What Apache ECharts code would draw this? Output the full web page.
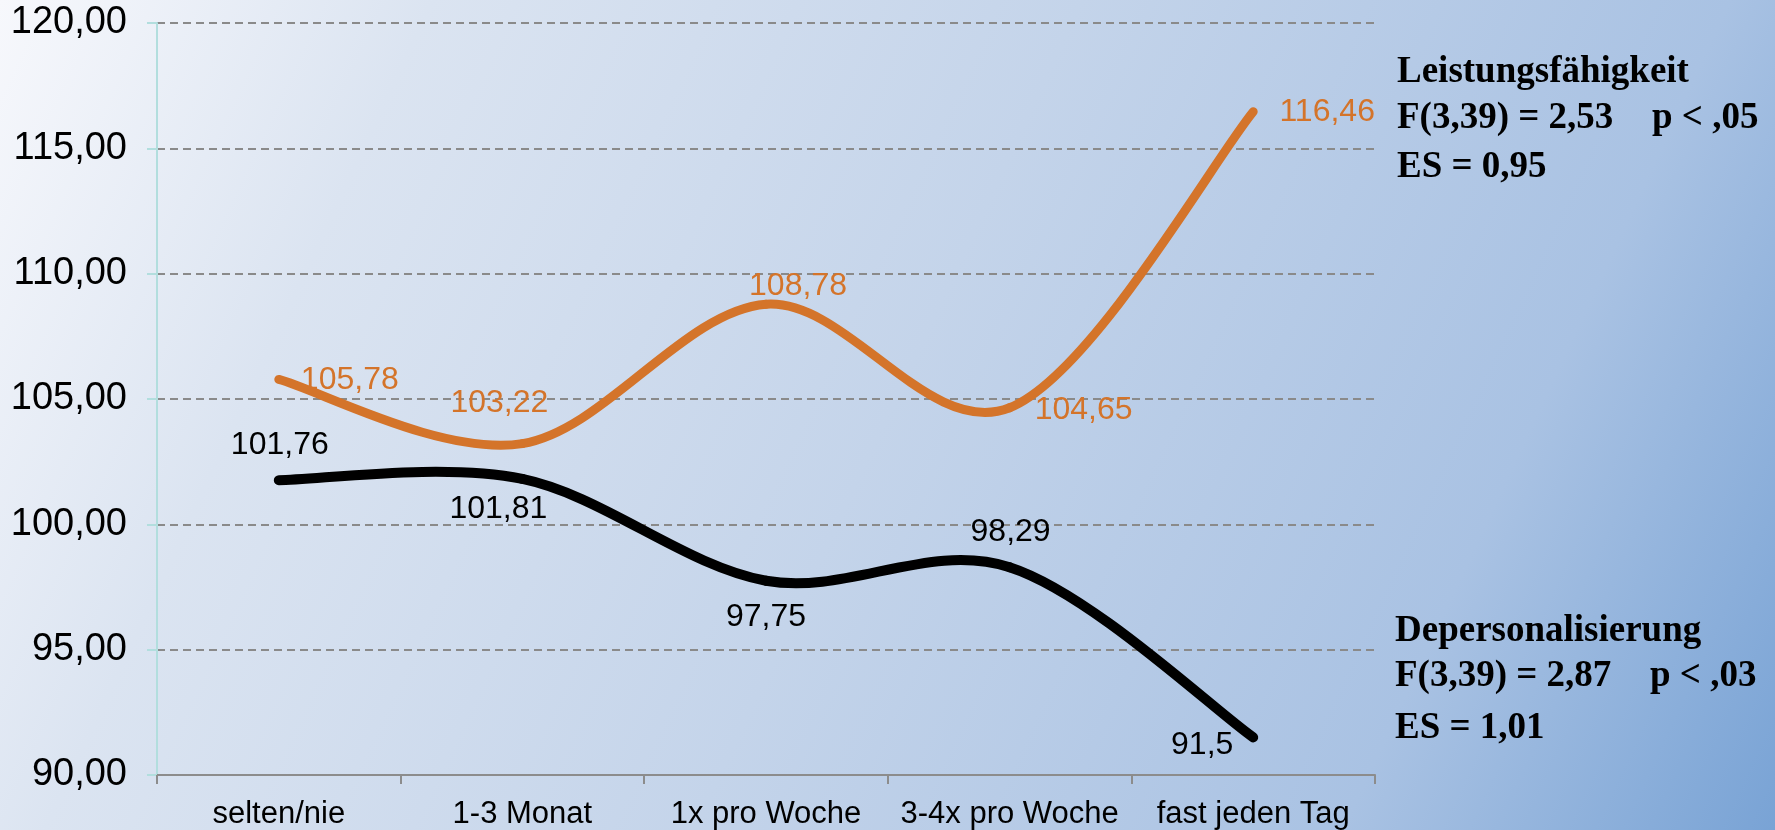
<!DOCTYPE html>
<html>
<head>
<meta charset="utf-8">
<title>Leistungsfähigkeit und Depersonalisierung</title>
<script src="https://cdn.jsdelivr.net/npm/echarts@6/dist/echarts.min.js"></script>
<style>
  html, body { margin: 0; padding: 0; width: 1775px; height: 830px; overflow: hidden; }
  #chart { width: 1775px; height: 830px; }
</style>
</head>
<body>
<div id="chart"></div>
<script>
// Categories and group means
const categories = ['selten/nie', '1-3 Monat', '1x pro Woche', '3-4x pro Woche', 'fast jeden Tag'];
const leistungsfaehigkeit = [105.78, 103.22, 108.78, 104.65, 116.46];
const depersonalisierung = [101.76, 101.81, 97.75, 98.29, 91.5];

// Value axis range
const yMin = 90;
const yMax = 120;
const yStep = 5;

// Statistics text blocks
const statsLeistung = ['Leistungsfähigkeit', 'F(3,39) = 2,53', 'p < ,05', 'ES = 0,95'];
const statsDeperson = ['Depersonalisierung', 'F(3,39) = 2,87', 'p < ,03', 'ES = 1,01'];

// Label placement relative to each point (px)
const orangeLabelOffsets = [[71, 1], [-23, -40], [32, -18], [74, 2], [74, 0]];
const blackLabelOffsets = [[1, -35], [-24, 30], [0, 36], [1, -35], [-51, 8]];

const ORANGE = '#d4742a';
const BLACK = '#000000';
const FONT_SANS = '"Liberation Sans", Arial, sans-serif';
const fmt = v => String(v).replace('.', ',');

function withLabels(values, offsets) {
  return values.map((v, i) => ({ value: v, label: { offset: offsets[i] } }));
}

// Smooth curve: one cubic Bezier per segment, Catmull-Rom style tangents,
// positioned through the chart's own coordinate system.
function smoothCurveSeries(name, values, color, width, z) {
  return {
    name: name,
    type: 'custom',
    coordinateSystem: 'cartesian2d',
    data: values.slice(0, -1).map((v, i) => [i, v]),
    z: z,
    silent: true,
    renderItem: function (params, api) {
      const i = params.dataIndex;
      const n = values.length;
      const pt = k => api.coord([Math.max(0, Math.min(n - 1, k)), values[Math.max(0, Math.min(n - 1, k))]]);
      const p0 = pt(i - 1), p1 = pt(i), p2 = pt(i + 1), p3 = pt(i + 2);
      const t = 1 / 6;
      return {
        type: 'bezierCurve',
        shape: {
          x1: p1[0], y1: p1[1],
          cpx1: p1[0] + (p2[0] - p0[0]) * t, cpy1: p1[1] + (p2[1] - p0[1]) * t,
          cpx2: p2[0] - (p3[0] - p1[0]) * t, cpy2: p2[1] - (p3[1] - p1[1]) * t,
          x2: p2[0], y2: p2[1]
        },
        style: { stroke: color, lineWidth: width, fill: null, lineCap: 'round', lineJoin: 'round' }
      };
    }
  };
}

// Invisible point series that carry the value labels
function labelSeries(name, values, offsets, color) {
  return {
    name: name,
    type: 'line',
    data: withLabels(values, offsets),
    symbol: 'circle',
    symbolSize: 1,
    itemStyle: { color: 'transparent' },
    lineStyle: { width: 0, opacity: 0 },
    label: {
      show: true,
      position: 'inside',
      color: color,
      fontFamily: FONT_SANS,
      fontSize: 32,
      formatter: p => fmt(p.value)
    },
    emphasis: { disabled: true },
    silent: true,
    z: 5
  };
}

function statText(x, y, text) {
  return {
    type: 'text',
    x: x,
    y: y,
    style: {
      text: text,
      fill: '#000',
      font: 'bold 37px "Liberation Serif", "Times New Roman", serif',
      verticalAlign: 'middle',
      align: 'left'
    }
  };
}

const chart = echarts.init(document.getElementById('chart'), null, { renderer: 'canvas' });

chart.setOption({
  backgroundColor: {
    type: 'linear', x: 0, y: 0, x2: 1, y2: 1,
    colorStops: [
      { offset: 0, color: '#f7f8fc' },
      { offset: 0.2, color: '#dbe4f1' },
      { offset: 0.5, color: '#c4d4ea' },
      { offset: 0.8, color: '#a9c2e3' },
      { offset: 1, color: '#79a3d5' }
    ]
  },
  animation: false,
  grid: { left: 157, right: 400, top: 23, bottom: 55, containLabel: false },
  xAxis: {
    type: 'category',
    data: categories,
    boundaryGap: true,
    axisLine: { show: true, lineStyle: { color: '#8c8c8c', width: 2 } },
    axisTick: { show: true, interval: 0, length: 9, lineStyle: { color: '#8c8c8c', width: 2 } },
    axisLabel: {
      interval: 0,
      color: '#000',
      fontFamily: FONT_SANS,
      fontSize: 31,
      margin: 24
    },
    splitLine: { show: false }
  },
  yAxis: {
    type: 'value',
    min: yMin,
    max: yMax,
    interval: yStep,
    axisLine: { show: true, lineStyle: { color: '#b2dede', width: 2 } },
    axisTick: { show: true, length: 10, lineStyle: { color: '#b2dede', width: 2 } },
    axisLabel: {
      color: '#000',
      fontFamily: FONT_SANS,
      fontSize: 38,
      margin: 30,
      formatter: v => v.toFixed(2).replace('.', ',')
    },
    splitLine: { show: true, lineStyle: { color: '#8a8a8a', width: 2, type: [8, 5] } }
  },
  series: [
    smoothCurveSeries('Leistungsfähigkeit', leistungsfaehigkeit, ORANGE, 9, 3),
    smoothCurveSeries('Depersonalisierung', depersonalisierung, BLACK, 10, 4),
    labelSeries('Leistungsfähigkeit Werte', leistungsfaehigkeit, orangeLabelOffsets, ORANGE),
    labelSeries('Depersonalisierung Werte', depersonalisierung, blackLabelOffsets, BLACK)
  ],
  graphic: [
    statText(1397, 72, statsLeistung[0]),
    statText(1397, 118, statsLeistung[1]),
    statText(1652, 118, statsLeistung[2]),
    statText(1397, 167, statsLeistung[3]),
    statText(1395, 631, statsDeperson[0]),
    statText(1395, 676, statsDeperson[1]),
    statText(1650, 676, statsDeperson[2]),
    statText(1395, 728, statsDeperson[3])
  ]
});
</script>
</body>
</html>
